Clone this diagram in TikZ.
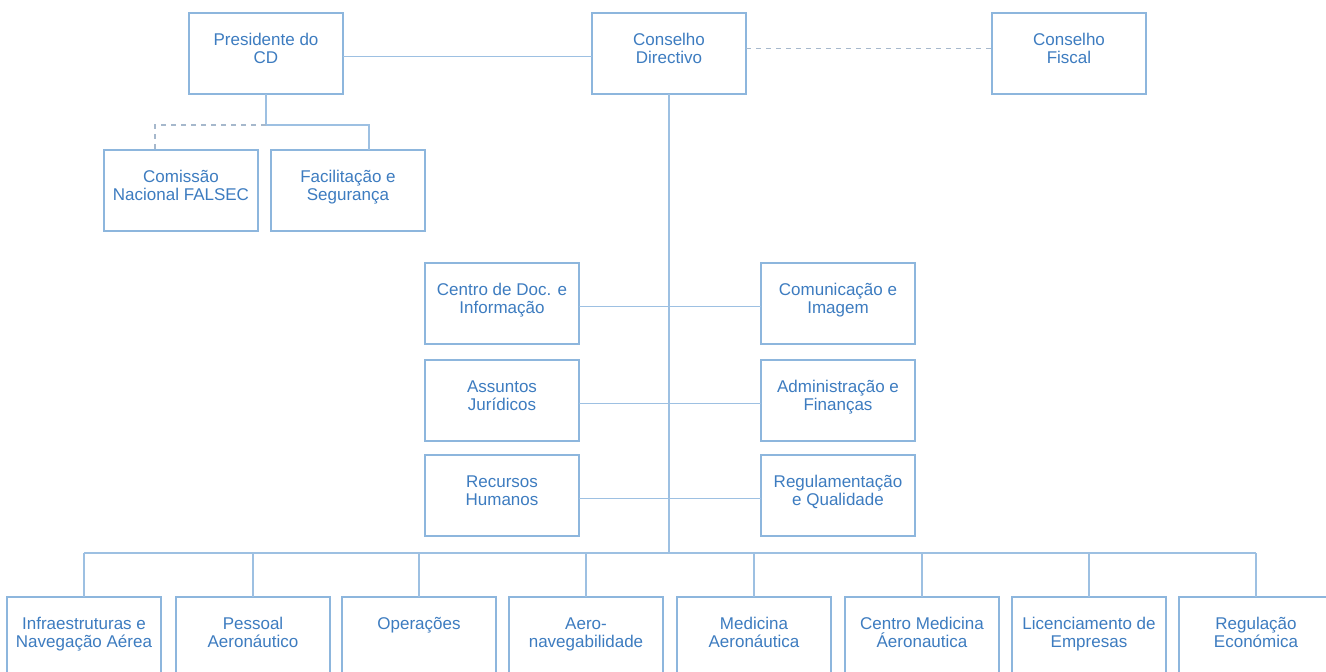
\documentclass[tikz,border=0pt]{standalone}
\usepackage{fontspec}
\setmainfont{Liberation Sans}
\usetikzlibrary{calc}
\definecolor{txtc}{HTML}{3D7CC0}
\definecolor{boxc}{HTML}{8DB6DD}
\definecolor{linec}{HTML}{9DC0E2}
\definecolor{dashc}{HTML}{A6B8CC}
\tikzset{
  lbl/.style={anchor=north, yshift=-19pt, align=center, inner sep=0pt, text=txtc,
    font=\fontsize{17}{18}\selectfont},
  box/.style={draw=boxc, line width=1.3pt, fill=white, minimum width=154pt, minimum height=81pt,
    inner sep=0pt, outer sep=0pt, anchor=north west,
    label={[lbl]north:\rule{0pt}{13pt}#1}},
  ln/.style={draw=linec, line width=1.6pt},
  dsh/.style={draw=dashc, line width=1.2pt, dash pattern=on 5pt off 5pt},
}
\begin{document}
\begin{tikzpicture}[x=1pt,y=-1pt]
\useasboundingbox (0,0) rectangle (1326,672);
\clip (0,0) rectangle (1326,672);
% top row
\node[box={Presidente do\\CD}] (p) at (189,13) {};
\node[box={Conselho\\Directivo}] (cd) at (592,13) {};
\node[box={Conselho\\Fiscal}] (cf) at (992,13) {};
% president's children
\node[box={Comissão\\Nacional FALSEC}] (com) at (104,150) {};
\node[box={Facilitação e\\Segurança}] (fac) at (271,150) {};
% middle
\node[box={Centro de Doc. e\\Informação}] (l1) at (425,263) {};
\node[box={Assuntos\\Jurídicos}] (l2) at (425,360) {};
\node[box={Recursos\\Humanos}] (l3) at (425,455) {};
\node[box={Comunicação e\\Imagem}] (r1) at (761,263) {};
\node[box={Administração e\\Finanças}] (r2) at (761,360) {};
\node[box={Regulamentação\\e Qualidade}] (r3) at (761,455) {};
% bottom row
\node[box={Infraestruturas e\\Navegação Aérea}] (b1) at (7,597) {};
\node[box={Pessoal\\Aeronáutico}] (b2) at (176,597) {};
\node[box={Operações}] (b3) at (342,597) {};
\node[box={Aero-\\navegabilidade}] (b4) at (509,597) {};
\node[box={Medicina\\Aeronáutica}] (b5) at (677,597) {};
\node[box={Centro Medicina\\Áeronautica}] (b6) at (845,597) {};
\node[box={Licenciamento de\\Empresas}] (b7) at (1012,597) {};
\node[box={Regulação\\Económica}] (b8) at (1179,597) {};
\coordinate (bus) at (0,553);
% connectors
\draw[ln] ([yshift=-3pt]p.east) -- ([yshift=-3pt]cd.west);
\draw[dsh] ([yshift=5pt]cd.east) -- ([yshift=5pt]cf.west);
\draw[ln] (p.south) -- ++(0,31) coordinate (pj);
\draw[ln] (pj) -| ([xshift=21pt]fac.north);
\draw[dsh] (pj) -| ([xshift=-26pt]com.north);
\draw[ln] (cd.south) -- (cd.south |- bus);
\draw[ln] ([yshift=-3pt]l1.east) -- ([yshift=-3pt]r1.west);
\draw[ln] ([yshift=-3pt]l2.east) -- ([yshift=-3pt]r2.west);
\draw[ln] ([yshift=-3pt]l3.east) -- ([yshift=-3pt]r3.west);
\draw[ln] (b1.north |- bus) -- (b8.north |- bus);
\foreach \i in {1,...,8} { \draw[ln] (b\i.north |- bus) -- (b\i.north); }
\end{tikzpicture}
\end{document}
